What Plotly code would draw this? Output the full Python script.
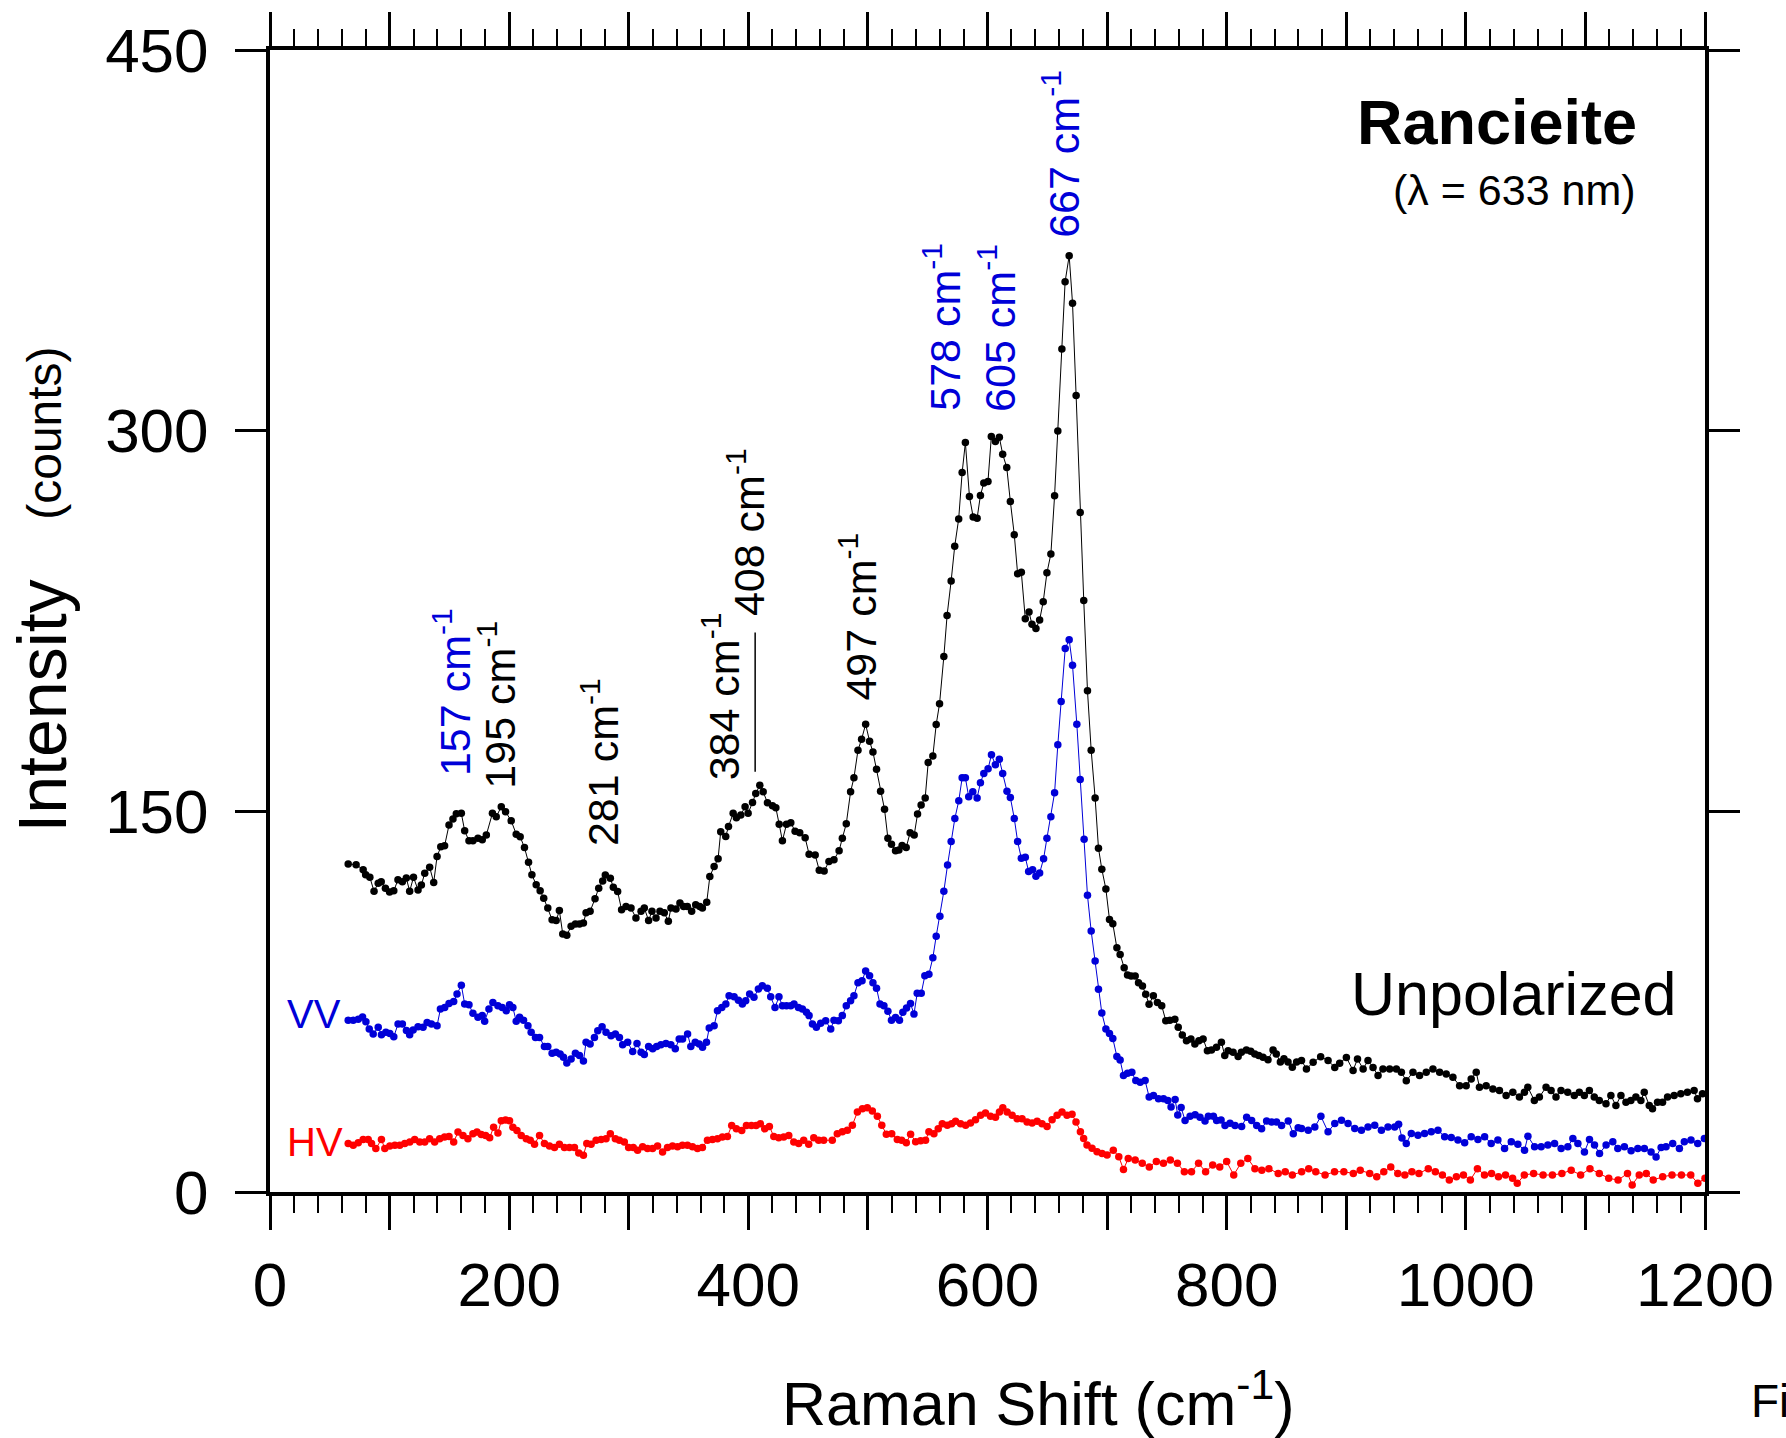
import plotly.graph_objects as go

# ---------------- data ----------------
unpol_x = [65.4,72,77.9,80,83.5,87,90.5,93,96.5,100,103.5,107,110.7,114,116.8,120,123.8,126.6,129.4,133.5,136.9,139.7,142.8,146,
           149.7,153,155.8,160,162.8,166.4,169.7,173.9,177.5,180.9,186,189.2,193.4,197,201.7,205.9,209.2,212.8,216.2,219,222.6,
           225.9,228.9,232.3,235.9,239.3,242,244.8,248.2,251.8,255.4,258.8,262.1,264.3,267.7,271.8,274.9,278.2,280.4,284.6,287.1,
           290.7,294,297.7,301.9,306,310.3,313,316.6,319.4,322.8,326.1,329.7,333.1,335.3,339.5,342.8,345.9,349,352.6,356,359.4,
           361.6,365.2,367.8,371.4,374.7,376.9,381.1,383.4,387.3,390,393.7,397.3,399.8,403.5,406.2,409.6,412.4,416,420.2,423,
           425.8,428.5,431.9,435.5,439.1,443,447.5,450.8,455.9,459.3,463.4,
           467.4,471.6,475.9,478.6,481.9,485.5,488.3,491.7,494.7,498.1,501.4,504.2,507.2,510.6,513.9,516.7,519.7,523.1,525.9,
           528.6,532,535.3,538.7,541.5,544.5,547.9,550.4,554.3,557.1,559.9,
           563.5,566.2,569.6,572.6,575.9,578.8,581.5,584.9,588,591.3,594.1,596.9,600.4,603.2,606.6,609.9,612.7,616.1,619.1,622.4,
           625.2,628.3,631.6,634.7,637.2,640.5,643.6,646.6,649.7,653,656.1,658.8,662.2,664.9,668.3,671.1,674.1,677.5,680.5,683.6,
           686.7,690,692.8,695.6,699,702,704.8,708.2,710.9,714.3,717.1,720.1,723.5,726.3,729.6,732.3,735.1,738.7,742.1,745.7,
           749.1,752.5,756.7,759.5,762.9,766.4,770.1,773.4,776.8,780.3,783.9,787.3,791.5,795.6,798.4,801.2,805.4,809.6,812.3,
           816.5,820.1,823.5,826.8,830.4,834.6,838.8,841.5,844.9,847.9,851.3,854.9,858.5,
           862.6,866.7,872.3,878.6,884.8,890.4,894.5,900.1,905.7,909.4,914.1,918.2,922.4,926.6,930.7,936.3,941.9,946.1,950.2,
           955.8,961.3,966.9,972.5,978.1,983.6,989.2,994.8,1000.3,1004.5,1008.7,1011.4,1017,1022.6,1028.1,1033.7,1039.3,1044.8,
           1049,1051.8,1057.3,1061.5,1067.1,1071.3,1075.4,1079.6,1085.2,1090.7,1094.9,1099.1,1103.3,1107.4,1111.6,1117.2,1121.3,
           1125.5,1129.7,1133.9,1138,1142.2,1146.4,1149.2,1153.4,1156.1,1160.3,1164.5,1168.7,1174.2,1179.8,1185.3,1190.9,1193.7,
           1197.9]
unpol_y = [129.2,129,127,125,124,118.5,121.7,122.3,119.7,118.2,118.7,123,122.3,123.7,118.5,124,119,121,125.6,128,122,132.2,136,136.4,
           144.6,147,149,149.2,142.3,138.4,138.4,139.4,138.8,140.7,149.2,147.9,151.8,149.8,146.3,141,140,135.7,129.9,125,121.1,
           118.7,115.8,111.9,107.3,107,110.9,101.7,101.2,104.7,105.6,105.6,106,110,110.6,115.6,119.7,122.5,124.9,123.6,120.1,
           118.4,111.2,112.5,111.9,108,110.6,111.9,107,110.6,108,110.6,110,106.7,111.9,111.5,113.9,112.5,112.5,110.6,113.2,112.5,
           111.9,114.2,124.3,128.3,131.3,142,140.1,144,149.2,147.5,148.6,151.8,149.2,153.5,157,160.3,157.7,153.4,152.2,151.4,
           144.9,138.4,144.9,145.5,142.2,141.6,139.6,133.1,132.8,126.8,126.5,
           130.2,130.9,134.5,139.4,145.1,157.7,163.2,174.1,178.4,184.3,177.6,173.4,166.6,157.9,150.8,139.4,137,134.5,134.8,
           136.5,135.7,141.6,140.7,148.9,152.5,155.3,169.2,171.8,184.2,192.4,
           211,227.2,240.8,254.5,265.2,283.5,295.3,274.1,266,265.5,274.5,279.4,280,297.7,295.7,297.4,290.7,285.5,272.1,259,
           243.6,244.2,225.9,228.5,223.7,222,225.4,232.6,244,251.4,274.4,299.9,332.2,358.7,368.9,350.2,313.9,267.8,233.1,197.5,
           174.1,155.3,135.5,127.2,119.4,107.4,105.7,96.2,93.6,88.4,85.5,85.1,85.1,82.5,81.2,77.9,74,77.3,74.7,73.4,
           67.5,67.7,68.1,64.9,61.9,59.6,60.3,58.3,59.6,60.3,55.7,56,57,59,53.8,55.7,55.1,53.4,55.1,
           56,55.5,54.4,53.8,53.1,52.1,56,54.4,51.2,52.5,51.2,49.2,51.2,
           51.8,48.5,51.1,53.3,51.8,49.1,50.7,53,47.9,52.4,48.5,51.8,49.1,45.9,48.5,48.5,48.5,47.2,43.8,
           47.2,45.9,47.2,48.5,47.2,46.5,45.2,41.9,41.9,44.5,47.2,41.3,41.9,40.6,40,38,39.3,37.4,
           39.3,41.3,36.1,37.4,41.3,40,37.4,40,39.3,38,39.3,38,40,37.4,36.1,34.8,38,
           34.1,38,35.4,36.1,37.4,36.1,39.3,34.1,32.8,35.4,35.4,37.4,38,38.7,39.3,40,36.7,
           38.7]

vv_x = [65.4,69.6,73.8,77.4,80.2,83,86.3,90.5,93.2,96.9,100.2,103.5,107.1,110.7,114.1,116.8,119.7,123.8,128,131.4,135,139.7,
        142.5,146.1,149.7,153.6,156.4,160,162.8,166.4,169.7,173.9,177.5,179.5,183.1,186.4,190.6,194.2,197.6,200.3,203.1,205.9,
        208.7,212,215.7,218.4,222,225.4,229.5,232.3,235.9,239.3,242.6,245.4,248.2,251.8,255.4,258.8,262.1,264.3,267.7,271.3,
        274.1,277.7,281,285.2,288.8,292.2,294.9,299.1,303.3,306.9,310.3,313,316.6,320,323.3,326.9,331.1,335.2,338.9,342.2,
        345,349.2,351.9,355.6,358.9,361.7,365,367.3,371.4,374.2,377.8,381.2,383.9,388.1,391.7,395,397.8,401.1,404.7,408.4,
        411.7,415.9,418.7,422.3,425.6,428.5,431.9,435.5,438.2,441.9,445.2,448.6,450.8,453.6,456.9,460.5,464.7,
        468.9,471.6,475.3,478.6,481.9,485.5,488.3,491.7,495.1,498.1,501.4,504.2,507.2,510.1,513.4,516.7,519.7,523.1,526.4,
        529.2,532.3,535.6,538.5,541.2,544.6,547.6,551,554.3,557.1,560.2,563.5,566.6,569.6,572.7,576,578.8,581.5,584.3,587.7,
        591.3,594.1,596.9,600.5,603.3,606.6,609.9,612.7,616.3,619.1,622.4,625.2,628.3,631.6,634.4,637.7,640.5,643.6,646.9,
        649.7,653,656.1,658.8,661.6,665,668.3,671.1,674.7,677.5,680.8,683.6,686.7,690,692.8,695.6,699,702,704.8,708.2,710.9,
        713.7,717.1,720.7,724,727.7,731.8,735.2,738.8,743,747.2,750.8,753.5,756.9,759.1,761.9,765.2,769.4,773.6,777.7,781.9,
        784.7,788.9,791.6,795.3,798.6,802.8,807,812.5,816.7,820.9,825.1,829.2,833.4,837.6,841.7,845.9,851.5,855.7,859.8,
        862.6,868.2,873.7,878.8,884.8,890.4,896,901.5,907.1,912.7,918.2,923.8,929.4,934.9,940.5,943.8,946.6,950.2,954.4,960,
        965.5,971.1,976.7,982.3,987.8,993.4,999,1004.5,1010.1,1015.7,1021.2,1026.8,1032.4,1038,1043.5,1049.1,1051.9,1057.5,
        1063,1068.6,1074.2,1079.7,1085.3,1089.5,1093.7,1099.2,1103.4,1107.6,1111.8,1117.3,1122.9,1127.1,1132.6,1138.2,1143.8,
        1149.3,1154.9,1159.1,1163.3,1167.4,1173,1178.6,1182.7,1188.3,1193.9,1199.5]
vv_y = [67.7,67.7,68.1,69,67.1,64.2,62.3,64.9,62,62.9,62.5,61.2,66.2,66.2,63.6,62,63.8,65.1,64.9,66.8,66.2,65.5,
        72.1,72.7,74.3,75.1,78,81.5,74.1,73.8,70.4,68.9,69.5,67.3,72.1,74.7,73.4,72.7,71.4,73.8,72.7,67.3,
        68.9,67.7,65.5,62.9,60.9,60.9,57.3,57.3,54.7,55.1,54.4,53.1,50.8,52.4,54.7,53.8,51.6,59,58.3,60.9,
        63.5,65.1,62.9,61.6,62.3,60.9,58,59,55.4,58.5,55.1,54.2,57.3,56.4,57.3,58,58.5,58,56.4,60.3,
        60.3,62.3,57.3,59,58.3,57,59,64.6,65.5,71.4,72.7,74.1,77.3,76.9,75.6,74.1,75.4,78,76.7,80,
        81.3,80.3,76.9,72.7,76.9,73.4,73.4,73.4,74.1,72.7,72.1,70.8,69.5,66.2,64.9,66.5,67.5,
        64.2,67.7,67.5,69.5,73.4,75.4,77.3,82.5,83.2,87.1,85.2,82.5,80.3,74.1,73.4,71.2,67.7,68.8,67.7,
        70.8,72.5,74.3,70.1,78.3,78.3,85.2,85.8,92.3,100.8,108.7,118.5,128.9,138.1,147.2,154.2,163.2,163.2,155.7,157.7,
        155.3,161.3,164.9,166.8,172.3,168.4,170.5,164.9,157.9,155.5,147.2,138.1,131.5,131.9,126.3,127,124.4,125.7,131.3,
        139.4,147.9,157.3,176.2,193.3,214.2,217.6,207.6,184.3,162.5,139,116.9,102.8,91,79.9,70.5,64.2,62.5,60.5,53.4,52,
        45.9,46.8,47.2,43.9,43.2,43.9,37.4,38,36.7,36.7,36.1,33.5,36.4,30.3,33.3,28.2,29.8,30.4,29.5,28,
        29.8,29.8,28.2,28.4,26.2,27.1,26.2,25.8,29.5,28.2,26.2,24.9,28,27.6,27.6,26.2,28,23,25.3,
        25,24.3,25.6,29.8,23.7,27,28.3,27,25,24.3,25.6,26.3,24.3,25.6,25.6,26.7,21.3,19.1,23.1,22.4,
        23.1,23.7,24.3,21.8,21.5,20.5,19.4,21.8,20.7,21.8,19.1,20.5,17.1,19.8,18.8,16.5,22,17.8,
        17.8,18.5,19.1,17.1,17.8,21.1,19.1,15.8,20.7,18.5,15.2,18.5,19.8,17.1,17.8,16.3,17.1,
        17.1,15.8,13.8,17.5,17.8,19.1,17.1,19.8,20.5,19.1,21.1]

hv_x = [65.4,69.6,73.8,77.9,82.1,84.9,88.5,93.2,96,100.2,104.4,108.5,112.7,116.9,121,125.2,129.4,133.5,137.7,141.9,146,149.7,
        153.6,157.2,161.4,165.5,169.7,173.1,176.7,180.3,183.7,187,190.6,193.4,197,200.3,203.1,206.5,210.1,214.3,217.6,221.2,
        225.4,229.5,233.7,237.9,242,246.2,250.4,254.6,258.2,262.1,264.9,268.5,272.7,276.9,281,284.6,288.8,292.2,296.3,299.9,
        303.8,307.4,311.6,315.7,319.9,324.1,328.3,332.4,336.6,340.8,344.9,349.1,353.3,357.5,361.6,365.8,370,374.2,378.3,382.5,
        386.1,390,394.5,398.4,402.6,406.5,410.1,413.7,417.6,421.3,425.4,429.6,433.8,438,442.1,446.3,450.5,454.7,458.8,463,
        470.2,474.4,478.6,482.8,487,491.2,495.4,499.5,503.7,507.9,511.6,515.4,519.9,524.6,528.2,532.1,535.7,539.9,544.1,548.2,
        551,555.2,558.8,562.2,566.4,570,573.3,577.5,581.7,585.8,590,594.2,598.3,602.5,606.7,610,612.8,616.4,620.6,624.8,
        628.9,633.1,637.3,641.5,645.6,649.8,654,658.2,662.3,666.5,670.7,674,677.7,680.4,683.2,687.4,691.6,695.8,700,
        705.2,709.8,713.7,717.7,723.5,729.4,735.3,741.2,747.1,752.9,758.8,764.6,770.6,776.5,782.4,788.3,794.2,800,805.9,
        811.8,817.7,823.6,829.4,835.3,843.1,849,854.9,862.7,868.6,874.5,882.3,890.2,898,905.9,911.7,919.6,925.5,931.4,
        937.2,943.1,949,954.9,960.8,968.6,974.5,980.4,986.2,992.1,998,1003.8,1009.7,1015.6,1021.5,1027.3,1033.2,1039.1,1043,
        1048.9,1056.7,1064.6,1072.4,1080.3,1088.1,1096,1103.8,1111.6,1119.5,1127.3,1135.2,1139.1,1145,1150.9,1156.7,1164.6,
        1172.4,1180.3,1188.1,1194,1200]
hv_y = [19.1,18.4,19.4,20.7,20.7,19.1,17.1,20.7,17.1,18.1,18.4,18.4,19.1,19.7,20.7,19.7,19.7,21,19.7,21,21.7,21.9,
        19.7,23.6,22.3,21,23,23.6,22.7,22.3,21.4,25.5,23.2,28.1,28.4,28.1,25.5,24.2,22.3,21,20.4,18.8,
        22.3,19.1,18.1,17.5,18.8,17.5,17.5,17.5,15.4,14.5,19.1,18.8,20.4,20.7,21,23,21,20.4,19.7,17.5,
        17.5,16.5,17.8,17.1,17.1,18.1,15.8,17.5,18.1,17.8,18.4,18.4,17.8,17.1,17.5,20.4,20.7,21,21.7,21.9,
        26.2,24.9,24.2,26.2,26.2,26.2,26.9,24.9,25.8,21.9,21.4,21.7,22.3,19.7,19.1,20.4,18.8,21.4,20.4,20.4,
        20.4,23,23.7,24.3,26.3,31.5,32.8,33.2,31.9,29.8,26.3,22.8,23,20.7,20.4,19.4,22.8,19.8,20.2,20.4,
        23.7,23,24.9,26.9,26.3,26.9,27.9,26.9,26.3,27.2,28.5,30.2,31.1,29.8,29.5,31.5,33.2,31.5,30.2,28.9,
        28.9,27.6,27.2,27.9,26.9,25.8,28.5,30.2,31.5,30.2,30.6,27.6,23.7,21.1,18.5,17.2,15.9,15.2,14.6,
        16.5,13.9,8.9,13.2,12.6,11.3,9.9,12,11.3,12.6,11.3,8,8,11.3,8,10.6,9.9,12,6.7,
        11.3,13.2,9.2,8.6,9.2,7.3,8,6.7,8,9.2,8,6.7,8,8,7.3,8.6,7.3,6,8,
        9.9,7.3,6.7,8,7.3,9.2,8,6.7,4.7,6,6.7,4.7,9.2,6.7,7.3,6,6.7,5.4,3.4,
        6.7,7.3,6.7,6.7,7.3,8.6,6.7,9.2,7.3,5.4,4.7,7.3,2.8,6.7,7.3,4.7,6,
        6.7,6.7,6.7,3.4,5.4]

x_tick_vals = [0, 100, 200, 300, 400, 500, 600, 700, 800, 900, 1000, 1100, 1200]
x_tick_text = ["0", "", "200", "", "400", "", "600", "", "800", "", "1000", "", "1200"]
y_tick_vals = [0, 150, 300, 450]

peak_pos = [152.8, 189.5, 275.9, 377.3, 398.6, 492.0, 561.8, 607.7, 661.9]
peak_base = [163.0, 158.0, 135.5, 161.5, 226.0, 193.0, 307.0, 306.5, 375.0]
peak_text = ["157", "195", "281", "384", "408", "497", "578", "605", "667"]
peak_color = ["#0000d8", "black", "black", "black", "black", "black", "#0000d8", "#0000d8", "#0000d8"]

BLUE = "#0000d8"
RED = "#ff0000"
FONT = "Liberation Sans, Arial, sans-serif"

fig = go.Figure()
for xs, ys, col in [(hv_x, hv_y, RED), (vv_x, vv_y, BLUE), (unpol_x, unpol_y, "black")]:
    fig.add_trace(go.Scatter(x=xs, y=ys, mode="lines+markers",
                             line=dict(color=col, width=1),
                             marker=dict(color=col, size=7.5, line=dict(width=0)),
                             showlegend=False, cliponaxis=False))

axis_common = dict(showline=True, linecolor="black", linewidth=4, mirror="ticks",
                   ticks="outside", tickcolor="black", showgrid=False, zeroline=False,
                   tickfont=dict(family=FONT, size=62, color="black"))

fig.update_xaxes(range=[0, 1200], tickmode="array", tickvals=x_tick_vals, ticktext=x_tick_text,
                 ticklen=34, tickwidth=2.5, ticklabelstandoff=2,
                 minor=dict(tickmode="linear", tick0=0, dtick=20, ticklen=17, tickwidth=2,
                            ticks="outside", tickcolor="black", showgrid=False),
                 **axis_common)
fig.update_yaxes(range=[0, 450], tickmode="array", tickvals=y_tick_vals,
                 ticklen=31, tickwidth=2.5, ticklabelstandoff=14, **axis_common)

ann = []
for p, b, t, c in zip(peak_pos, peak_base, peak_text, peak_color):
    ann.append(dict(x=p, y=b, xref="x", yref="y", text=t + " cm<sup>-1</sup>", textangle=-90,
                    xanchor="center", yanchor="bottom", showarrow=False,
                    font=dict(family=FONT, size=43, color=c)))

ann += [
    dict(x=1145, y=421.7, xref="x", yref="y", text="<b>Rancieite</b>", xanchor="right", yanchor="middle",
         showarrow=False, font=dict(family=FONT, size=63, color="black")),
    dict(x=1143.6, y=394.7, xref="x", yref="y", text="(λ = 633 nm)", xanchor="right", yanchor="middle",
         showarrow=False, font=dict(family=FONT, size=43, color="black")),
    dict(x=1178.6, y=78, xref="x", yref="y", text="Unpolarized", xanchor="right", yanchor="middle",
         showarrow=False, font=dict(family=FONT, size=61, color="black")),
    dict(x=12.5, y=70, xref="x", yref="y", text="VV", xanchor="left", yanchor="middle",
         showarrow=False, font=dict(family=FONT, size=40, color=BLUE)),
    dict(x=12.5, y=19.6, xref="x", yref="y", text="HV", xanchor="left", yanchor="middle",
         showarrow=False, font=dict(family=FONT, size=40, color=RED)),
    dict(x=(1040 - 270) / 1438, y=(1192 - 1400) / 1147, xref="paper", yref="paper",
         text="Raman Shift (cm<sup>-1</sup>)", xanchor="center", yanchor="middle",
         showarrow=False, font=dict(family=FONT, size=61, color="black")),
    dict(x=(42 - 270) / 1438, y=(1192 - 704) / 1147, xref="paper", yref="paper",
         text="Intensity", textangle=-90, xanchor="center", yanchor="middle",
         showarrow=False, font=dict(family=FONT, size=68, color="black")),
    dict(x=(44 - 270) / 1438, y=(1192 - 430) / 1147, xref="paper", yref="paper",
         text="(counts)", textangle=-90, xanchor="center", yanchor="middle",
         showarrow=False, font=dict(family=FONT, size=48, color="black")),
    dict(x=(1752 - 270) / 1438, y=(1192 - 1402) / 1147, xref="paper", yref="paper",
         text="Fi", xanchor="left", yanchor="middle",
         showarrow=False, font=dict(family=FONT, size=46, color="black")),
]

fig.update_layout(
    width=1786, height=1438,
    margin=dict(l=270, r=78, t=44, b=246),
    paper_bgcolor="white", plot_bgcolor="white",
    annotations=ann,
    shapes=[dict(type="line", xref="x", yref="y", x0=405.7, x1=405.7, y0=165.6, y1=220.5,
                 line=dict(color="black", width=1.5))],
)

fig.write_html("out.html")
